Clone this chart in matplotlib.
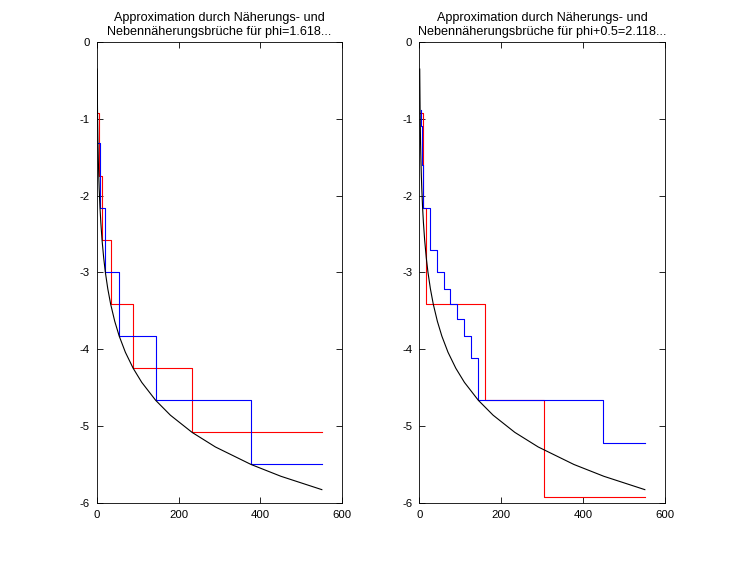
import matplotlib
matplotlib.use("Agg")
import matplotlib.pyplot as plt

plt.rcParams['font.family'] = ['Liberation Sans', 'DejaVu Sans']
plt.rcParams['axes.unicode_minus'] = False

# Hurwitz bound log10(1/(sqrt(5) q^2)), read at a few denominators
bound_q = [1, 2, 3, 4, 5, 6, 8, 10, 13, 17, 21, 27, 34, 44, 55, 70, 89, 110,
           144, 180, 233, 290, 377, 450, 550]
bound_y = [-0.349, -0.951, -1.304, -1.554, -1.747, -1.906, -2.156, -2.349,
           -2.577, -2.810, -2.994, -3.212, -3.412, -3.636, -3.830, -4.040,
           -4.248, -4.432, -4.666, -4.860, -5.084, -5.274, -5.502, -5.656, -5.830]

# phi = 1.618...: approximations from below (red) and above (blue)
phi_red_q = [2, 5, 13, 34, 89, 233, 550]
phi_red_y = [-0.928, -1.745, -2.576, -3.412, -4.248, -5.084, -5.084]
phi_blue_q = [3, 8, 21, 55, 144, 377, 550]
phi_blue_y = [-1.313, -2.157, -2.994, -3.830, -4.666, -5.502, -5.502]

# phi+0.5 = 2.118...: incl. Nebennaeherungsbrueche
half_red_q = [1, 9, 17, 161, 305, 550]
half_red_y = [-0.928, -2.160, -3.412, -4.666, -5.920, -5.920]
half_blue_q = [4, 5, 6, 7, 8, 25, 42, 59, 76, 93, 110, 127, 144, 449, 550]
half_blue_y = [-0.880, -1.087, -1.313, -1.605, -2.157, -2.706, -2.994, -3.215,
               -3.412, -3.609, -3.830, -4.118, -4.666, -5.221, -5.221]

titles = ["Approximation durch Näherungs- und\nNebennäherungsbrüche für phi=1.618...",
          "Approximation durch Näherungs- und\nNebennäherungsbrüche für phi+0.5=2.118..."]

fig = plt.figure(figsize=(7.35, 5.65), dpi=100)
ax1 = fig.add_axes([0.1316, 0.1103, 0.3341, 0.8149])
ax2 = fig.add_axes([0.5705, 0.1103, 0.3347, 0.8149])

data = [(ax1, phi_red_q, phi_red_y, phi_blue_q, phi_blue_y),
        (ax2, half_red_q, half_red_y, half_blue_q, half_blue_y)]

for i, (ax, rq, ry, bq, by) in enumerate(data):
    ax.step(rq, ry, where='post', color='#ff0000', lw=0.8)
    ax.step(bq, by, where='post', color='#0000ff', lw=0.8)
    ax.plot(bound_q, bound_y, color='black', lw=0.8)
    ax.set_xlim(0, 600)
    ax.set_ylim(-6, 0)
    ax.set_xticks([0, 200, 400, 600])
    ax.set_yticks([0, -1, -2, -3, -4, -5, -6])
    ax.tick_params(direction='in', top=True, right=True, length=4.5,
                   width=0.6, labelsize=8.2, pad=5)
    for s in ax.spines.values():
        s.set_linewidth(0.6)
    ax.set_title(titles[i], fontsize=9.1, linespacing=1.25, pad=5)

fig.savefig("out.png", dpi=100, facecolor='white')
